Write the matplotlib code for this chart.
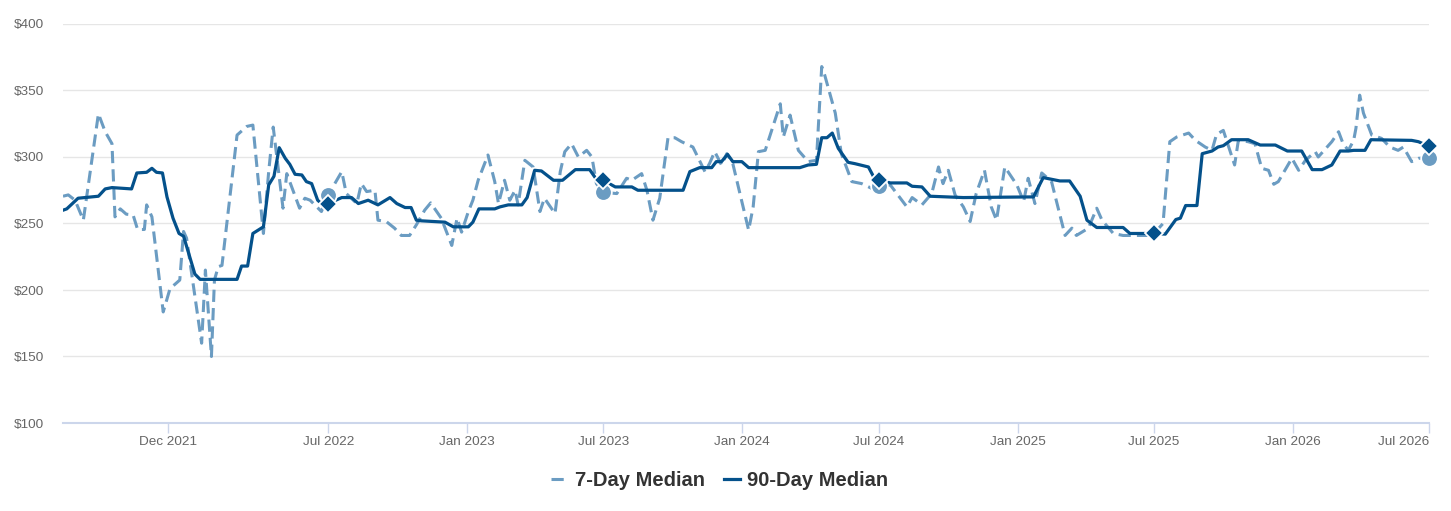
import matplotlib
matplotlib.use("Agg")
import matplotlib.pyplot as plt
import pandas as pd

# 90-day median (solid line)
dates_90 = [
    '2021-07-14', '2021-07-19', '2021-08-03', '2021-08-30', '2021-09-08', '2021-09-17', '2021-10-13', '2021-10-20',
    '2021-11-02', '2021-11-09', '2021-11-15', '2021-11-23', '2021-11-29', '2021-12-07', '2021-12-15', '2021-12-21',
    '2022-01-05', '2022-01-12', '2022-03-02', '2022-03-08', '2022-03-16', '2022-03-23', '2022-04-06', '2022-04-13',
    '2022-04-20', '2022-04-27', '2022-05-05', '2022-05-11', '2022-05-18', '2022-05-27', '2022-06-02', '2022-06-09',
    '2022-06-17', '2022-06-24', '2022-07-01', '2022-07-19', '2022-08-01', '2022-08-10', '2022-08-23', '2022-09-05',
    '2022-09-21', '2022-09-30', '2022-10-11', '2022-10-19', '2022-10-26', '2022-11-02', '2022-12-03', '2022-12-14',
    '2023-01-03', '2023-01-09', '2023-01-17', '2023-02-07', '2023-02-14', '2023-02-25', '2023-03-15', '2023-03-22',
    '2023-04-01', '2023-04-10', '2023-04-26', '2023-05-08', '2023-05-25', '2023-06-13', '2023-06-21', '2023-07-01',
    '2023-07-17', '2023-08-08', '2023-08-16', '2023-10-15', '2023-10-24', '2023-11-06', '2023-11-22', '2023-11-28',
    '2023-12-05', '2023-12-13', '2023-12-20', '2024-01-01', '2024-01-10', '2024-03-18', '2024-03-29', '2024-04-09',
    '2024-04-16', '2024-04-23', '2024-04-30', '2024-05-08', '2024-05-21', '2024-05-30', '2024-06-17', '2024-06-24',
    '2024-07-01', '2024-07-16', '2024-08-07', '2024-08-14', '2024-08-27', '2024-09-07', '2024-10-21', '2025-01-22',
    '2025-02-04', '2025-02-26', '2025-03-11', '2025-03-25', '2025-04-03', '2025-04-16', '2025-05-21', '2025-05-30',
    '2025-06-21', '2025-07-01', '2025-07-16', '2025-07-30', '2025-08-05', '2025-08-12', '2025-08-27', '2025-09-03',
    '2025-09-16', '2025-09-24', '2025-10-01', '2025-10-12', '2025-11-03', '2025-11-19', '2025-12-09', '2025-12-25',
    '2026-01-13', '2026-01-27', '2026-02-09', '2026-02-22', '2026-03-05', '2026-03-16', '2026-03-23', '2026-04-07',
    '2026-04-15', '2026-06-08', '2026-06-17', '2026-07-01',
]
median_90 = [
    260, 261, 269, 270.5, 276, 277, 276, 288,
    288.5, 291.5, 288.5, 288, 270, 254, 242.5, 240.5,
    212, 208, 208, 218, 218, 242.5, 247.5, 279,
    285.5, 307, 299, 294.5, 287, 286.5, 281.5, 280,
    267.5, 264, 265, 269.5, 269.5, 265, 267.5, 264,
    269.5, 265, 262, 262, 252.5, 252, 251, 247.5,
    247.5, 251, 261, 261, 262.5, 264, 264, 269.5,
    290, 289.5, 282.5, 282.5, 290.5, 290.5, 284, 282.5,
    277.5, 277.5, 275, 275, 289, 292, 292, 296.5,
    296.5, 302, 296.5, 296.5, 292, 292, 294, 294.5,
    314.5, 314.5, 318, 306.5, 296, 295, 292.5, 285,
    283, 280.5, 280.5, 278, 277.5, 270.5, 269.5, 270,
    284.5, 282, 282, 270.5, 252.5, 247, 247, 242.5,
    242.5, 242.5, 242, 253, 254, 263.5, 263.5, 302.5,
    304.5, 307.5, 308.5, 313, 313, 309, 309, 304.5,
    304.5, 290.5, 290.5, 294, 304.5, 304.5, 305, 305,
    313, 312.5, 311.5, 308,
]

# 7-day median (dashed line)
dates_7 = [
    '2021-07-14', '2021-07-21', '2021-07-30', '2021-08-10', '2021-08-30', '2021-09-08', '2021-09-17', '2021-09-21',
    '2021-09-28', '2021-10-06', '2021-10-15', '2021-10-21', '2021-10-30', '2021-11-02', '2021-11-09', '2021-11-24',
    '2021-12-03', '2021-12-16', '2021-12-21', '2021-12-25',
    '2022-01-14', '2022-01-19', '2022-01-27', '2022-01-31', '2022-02-05', '2022-02-10', '2022-03-02', '2022-03-15',
    '2022-03-23', '2022-04-06', '2022-04-13', '2022-04-19', '2022-05-02', '2022-05-07', '2022-05-24', '2022-05-31',
    '2022-06-07', '2022-06-22', '2022-07-01', '2022-07-19', '2022-07-25', '2022-08-08', '2022-08-14', '2022-08-21',
    '2022-09-01', '2022-09-05', '2022-09-16', '2022-09-27', '2022-10-06', '2022-10-17', '2022-10-26', '2022-11-06',
    '2022-11-14', '2022-11-22', '2022-11-28', '2022-12-12', '2022-12-19', '2022-12-25',
    '2023-01-03', '2023-01-09', '2023-01-16', '2023-01-29', '2023-02-07', '2023-02-12', '2023-02-20', '2023-02-27',
    '2023-03-06', '2023-03-10', '2023-03-19', '2023-03-30', '2023-04-08', '2023-04-14', '2023-04-28', '2023-05-05',
    '2023-05-11', '2023-05-20', '2023-05-29', '2023-06-09', '2023-06-16', '2023-06-22', '2023-07-01', '2023-07-19',
    '2023-08-01', '2023-08-08', '2023-08-21', '2023-08-28', '2023-09-05', '2023-09-14', '2023-09-25', '2023-10-04',
    '2023-10-13', '2023-10-28', '2023-11-13', '2023-11-19', '2023-11-26', '2023-12-05', '2023-12-12', '2023-12-20',
    '2024-01-10', '2024-01-16', '2024-01-23', '2024-02-01', '2024-02-21', '2024-02-25', '2024-03-05', '2024-03-16',
    '2024-03-29', '2024-04-09', '2024-04-16', '2024-04-20', '2024-05-04', '2024-05-12', '2024-05-26', '2024-06-08',
    '2024-06-21', '2024-07-01', '2024-07-16', '2024-08-07', '2024-08-14', '2024-08-27', '2024-09-09', '2024-09-18',
    '2024-09-24', '2024-10-01', '2024-10-10', '2024-10-21', '2024-10-30', '2024-11-07', '2024-11-18', '2024-11-27',
    '2024-12-04', '2024-12-15', '2024-12-31',
    '2025-01-09', '2025-01-15', '2025-01-24', '2025-02-02', '2025-02-15', '2025-03-05', '2025-03-14', '2025-03-20',
    '2025-04-05', '2025-04-16', '2025-04-23', '2025-05-08', '2025-05-21', '2025-06-26', '2025-07-01', '2025-07-13',
    '2025-07-22', '2025-07-31', '2025-08-16', '2025-08-25', '2025-09-07', '2025-09-16', '2025-09-22', '2025-10-01',
    '2025-10-16', '2025-10-21', '2025-11-03', '2025-11-12', '2025-11-21', '2025-11-30', '2025-12-07', '2025-12-13',
    '2025-12-31',
    '2026-01-09', '2026-01-18', '2026-01-31', '2026-02-04', '2026-02-22', '2026-03-03', '2026-03-09', '2026-03-16',
    '2026-03-23', '2026-03-26', '2026-03-31', '2026-04-05', '2026-04-16', '2026-04-29', '2026-05-10', '2026-05-21',
    '2026-05-28', '2026-06-08', '2026-06-17', '2026-07-01',
]
median_7 = [
    270.5, 271.5, 267.5, 252.5, 332.5, 319, 310, 255,
    261, 257, 256.5, 245.5, 245.5, 264, 255, 183.5,
    201, 207.5, 244, 239,
    160, 215, 150, 207.5, 217.5, 218.5, 316.5, 323,
    324, 242.5, 289, 322.5, 261.5, 287.5, 261.5, 269,
    267.5, 259, 271.5, 289, 272.5, 265, 280, 274,
    275, 252.5, 251.5, 246.5, 241, 241, 249, 260,
    265.5, 259, 254, 233.5, 254, 243.5,
    259, 267.5, 282.5, 301.5, 281.5, 265, 282.5, 267.5,
    275, 264, 297.5, 292.5, 259, 269, 257.5, 289,
    304, 310, 300, 305, 300, 280, 273.5, 272.5,
    284, 282.5, 287.5, 275, 252.5, 269, 314.5, 314.5,
    311.5, 307.5, 289, 295, 304, 294, 302.5, 295,
    245, 262.5, 304, 305, 340, 315, 331.5, 305,
    296.5, 297.5, 368, 361.5, 333, 302.5, 281.5, 280,
    276.5, 278, 279, 262.5, 269.5, 264, 272.5, 292.5,
    280, 290, 271.5, 262.5, 251.5, 272.5, 290, 262.5,
    252.5, 292.5, 279,
    266.5, 284, 265, 288, 281.5, 241, 246.5, 241,
    246.5, 261.5, 252.5, 242.5, 241, 241, 242.5, 250,
    311.5, 315, 318, 312.5, 307.5, 305, 317, 320,
    294, 312.5, 311.5, 310, 291.5, 290, 279.5, 281.5,
    299,
    290, 297.5, 304, 300, 311.5, 319, 310, 305,
    312.5, 321.5, 346.5, 333, 316.5, 314, 307.5, 305,
    307.5, 296.5, 299, 299.5,
]

# yearly highlighted points
marker_dates_90 = ['2022-07-01', '2023-07-01', '2024-07-01', '2025-07-01', '2026-07-01']
marker_values_90 = [265, 282.5, 283, 242.5, 308]
marker_dates_7 = ['2022-07-01', '2023-07-01', '2024-07-01', '2026-07-01']
marker_values_7 = [271.5, 273.5, 278, 299.5]

tick_dates = ['2021-12-01', '2022-07-01', '2023-01-01', '2023-07-01', '2024-01-01',
              '2024-07-01', '2025-01-01', '2025-07-01', '2026-01-01', '2026-07-01']
tick_labels = ['Dec 2021', 'Jul 2022', 'Jan 2023', 'Jul 2023', 'Jan 2024',
               'Jul 2024', 'Jan 2025', 'Jul 2025', 'Jan 2026', 'Jul 2026']
y_ticks = [100, 150, 200, 250, 300, 350, 400]

light = '#6b9cc2'
dark = '#04518b'

plt.rcParams['font.family'] = ['Liberation Sans', 'DejaVu Sans']

W, H = 1451, 511
fig = plt.figure(figsize=(W / 100, H / 100), dpi=100)
ax = fig.add_axes([63 / W, 1 - 423 / H, (1429 - 63) / W, (423 - 24) / H])

ax.plot(pd.to_datetime(dates_7), median_7, color=light, lw=2.2, dashes=(4, 2), zorder=3, label='7-Day Median')
ax.plot(pd.to_datetime(dates_90), median_90, color=dark, lw=2.3, zorder=4, label='90-Day Median')

ax.plot(pd.to_datetime(marker_dates_7), marker_values_7, 'o', color=light, ms=12,
        mec='white', mew=1.3, zorder=5, clip_on=False)
ax.plot(pd.to_datetime(marker_dates_90), marker_values_90, 'D', color=dark, ms=9.5,
        mec='white', mew=1.3, zorder=6, clip_on=False)

ax.set_xlim(pd.Timestamp('2021-07-14'), pd.Timestamp('2026-07-01'))
ax.set_ylim(100, 400)

ax.set_yticks(y_ticks)
ax.set_yticklabels(['$%d' % v for v in y_ticks])
ax.set_xticks(pd.to_datetime(tick_dates))
ax.set_xticklabels(tick_labels)
# last label is pulled inside the plot edge
ax.get_xticklabels()[-1].set_horizontalalignment('right')

ax.grid(axis='y', color='#e6e6e6', lw=1)
ax.set_axisbelow(True)
for s in ['top', 'right', 'left']:
    ax.spines[s].set_visible(False)
ax.spines['bottom'].set_color('#ccd6eb')
ax.spines['bottom'].set_linewidth(1.5)

ax.tick_params(axis='y', length=0, pad=13.5, labelsize=9.7, labelcolor='#666666')
ax.tick_params(axis='x', length=7, width=1, color='#ccd6eb', pad=2, labelsize=9.7, labelcolor='#666666')

fig.legend(loc='center', bbox_to_anchor=(0.496, 0.06), ncol=2, frameon=False,
           prop={'weight': 'bold', 'size': 14.5}, labelcolor='#333333',
           handlelength=0.8, handletextpad=0.35, columnspacing=0.95)

fig.savefig('out.png', dpi=100)
